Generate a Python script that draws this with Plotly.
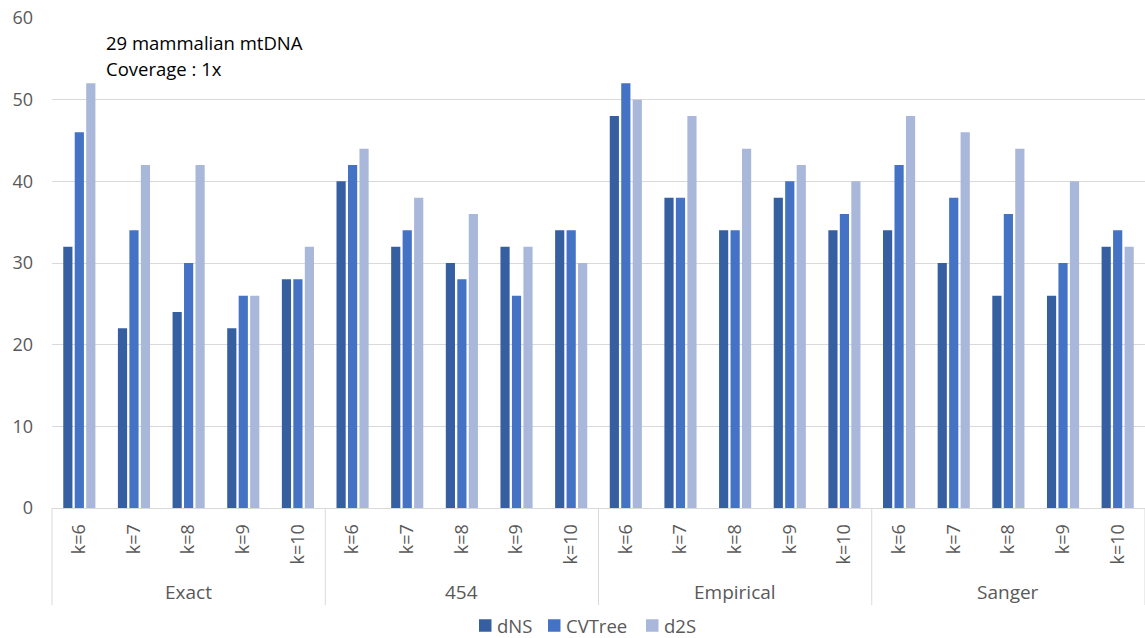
import plotly.graph_objects as go

# Data: grouped by simulation model, then by k-mer length
groups = ["Exact", "454", "Empirical", "Sanger"]
k_labels = ["k=6", "k=7", "k=8", "k=9", "k=10"]

dns = [32, 22, 24, 22, 28,
       40, 32, 30, 32, 34,
       48, 38, 34, 38, 34,
       34, 30, 26, 26, 32]
cvtree = [46, 34, 30, 26, 28,
          42, 34, 28, 26, 34,
          52, 38, 34, 40, 36,
          42, 38, 36, 30, 34]
d2s = [52, 42, 42, 26, 32,
       44, 38, 36, 32, 30,
       50, 48, 44, 42, 40,
       48, 46, 44, 40, 32]

series_names = ["dNS", "CVTree", "d2S"]
series_values = [dns, cvtree, d2s]
series_colors = ["#365FA2", "#4472C4", "#A9B7DB"]

# Unique category keys, displayed with only the k label
cats = [f"{g}|{k}" for g in groups for k in k_labels]
tick_text = [k for g in groups for k in k_labels]

FONT = "Open Sans"
GREY = "#595959"
LINE = "#D9D9D9"

W, H = 1145, 638
M_L, M_R, M_T, M_B = 52, 0, 18, 130
PLOT_W = W - M_L - M_R
PLOT_H = H - M_T - M_B


def px_to_paper(px, py):
    """Convert page pixel coordinates to paper coordinates."""
    return (px - M_L) / PLOT_W, (H - M_B - py) / PLOT_H


fig = go.Figure()
for name, vals, color in zip(series_names, series_values, series_colors):
    fig.add_trace(go.Bar(
        x=cats, y=vals, name=name, showlegend=False,
        marker=dict(color=color, line=dict(width=0)),
    ))

n_cat = len(cats)
n_k = len(k_labels)

shapes = []
annotations = []

# Dividers between groups in the label area
for gi in range(len(groups) + 1):
    xp = gi * n_k / n_cat
    shapes.append(dict(type="line", xref="paper", yref="paper",
                       x0=xp, x1=xp, y0=0, y1=-0.198,
                       line=dict(color=LINE, width=1)))

# Group labels under each block of k values
for gi, g in enumerate(groups):
    mid = cats[gi * n_k + n_k // 2]
    annotations.append(dict(x=mid, xref="x", y=-0.171, yref="paper",
                            text=g, showarrow=False,
                            font=dict(family=FONT, size=19, color=GREY),
                            xanchor="center", yanchor="middle"))

# Chart caption
for text, py in [("29 mammalian mtDNA", 43), ("Coverage : 1x", 68)]:
    cx, cy = px_to_paper(104, py)
    annotations.append(dict(x=cx, xref="paper", y=cy, yref="paper",
                            text=text, showarrow=False,
                            font=dict(family=FONT, size=18.5, color="#000000"),
                            xanchor="left", yanchor="middle"))

# Legend row: colour key square followed by the series name
legend_key_left = [479, 548, 646]
legend_row_y = 625.5
key_size = 12.5
for name, color, kx in zip(series_names, series_colors, legend_key_left):
    x0, y0 = px_to_paper(kx, legend_row_y + key_size / 2)
    x1, y1 = px_to_paper(kx + key_size, legend_row_y - key_size / 2)
    shapes.append(dict(type="rect", xref="paper", yref="paper",
                       x0=x0, x1=x1, y0=y0, y1=y1,
                       fillcolor=color, line=dict(width=0)))
    tx, ty = px_to_paper(kx + 17, legend_row_y)
    annotations.append(dict(x=tx, xref="paper", y=ty, yref="paper",
                            text=name, showarrow=False, borderpad=0,
                            font=dict(family=FONT, size=18.5, color=GREY),
                            xanchor="left", yanchor="middle"))

fig.update_layout(
    width=W, height=H,
    margin=dict(l=M_L, r=M_R, t=M_T, b=M_B, autoexpand=False),
    paper_bgcolor="white", plot_bgcolor="white",
    barmode="group", bargap=0.37, bargroupgap=0.2,
    font=dict(family=FONT, size=18, color=GREY),
    showlegend=False,
    shapes=shapes,
    annotations=annotations,
)
fig.update_xaxes(
    type="category", categoryorder="array", categoryarray=cats,
    tickvals=cats, ticktext=tick_text, tickangle=-90,
    range=[-0.5, n_cat - 0.5],
    showline=True, linecolor=LINE, linewidth=1,
    showgrid=False, ticks="", ticklen=0, ticklabelstandoff=8,
    tickfont=dict(family=FONT, size=18, color=GREY),
)
fig.update_yaxes(
    range=[0, 60], dtick=10, showgrid=True, gridcolor=LINE, gridwidth=1,
    zeroline=False, showline=False, ticks="", ticklabelstandoff=18,
    tickfont=dict(family=FONT, size=18, color=GREY),
)

fig.write_html("out.html")
